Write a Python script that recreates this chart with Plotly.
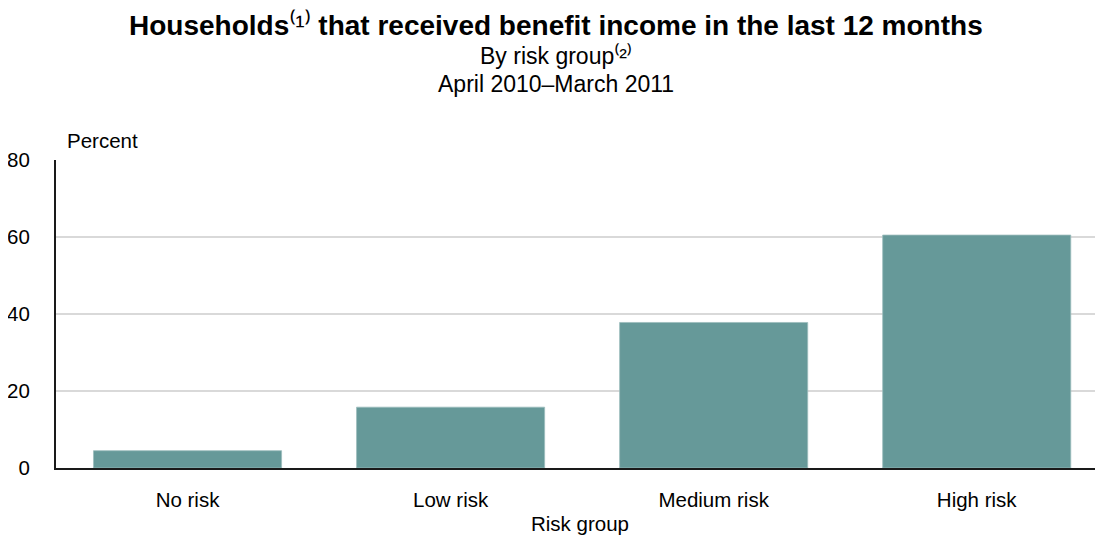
import plotly.graph_objects as go

categories = ["No risk", "Low risk", "Medium risk", "High risk"]
values = [4.5, 15.8, 37.8, 60.5]
y_ticks = [0, 20, 40, 60, 80]

FONT = "Liberation Sans, Arial, sans-serif"
BAR = "#669999"

# page body has an 8px default margin; compensate
OFF = 8
W, H = 1103 - OFF, 538 - OFF
left, right, top, bottom = 56, 1103, 160, 468   # plot area in screenshot px


def px(x):
    return (x - left) / (right - left)


def py(y):
    return (bottom - y) / (bottom - top)


fig = go.Figure()
fig.add_trace(go.Bar(
    x=categories, y=values, width=0.715,
    marker=dict(color=BAR, line=dict(color="#9cbcbc", width=0.8)),
    hoverinfo="x+y",
))

fig.update_layout(
    width=W, height=H,
    margin=dict(l=left - OFF, r=0, t=top - OFF, b=H - (bottom - OFF)),
    paper_bgcolor="white", plot_bgcolor="white",
    font=dict(family=FONT, size=20.5, color="#000000"),
    showlegend=False,
    xaxis=dict(
        type="category", range=[-0.5, 3.48],
        showline=True, linecolor="#1a1a1a", linewidth=2,
        showgrid=False, ticks="", tickfont=dict(size=20.5),
        ticklabelstandoff=12,
    ),
    yaxis=dict(
        range=[0, 80], tickvals=y_ticks, ticktext=[str(v) for v in y_ticks],
        showline=True, linecolor="#1a1a1a", linewidth=2,
        showgrid=True, gridcolor="#d9d9d9", gridwidth=2,
        ticks="", tickfont=dict(size=20.5), ticklabelstandoff=20,
        zeroline=False,
    ),
    annotations=[
        dict(text="<b>Households</b>⁽¹⁾<b> that received benefit income in the last 12 months</b>",
             xref="paper", yref="paper", x=px(556), y=py(25), xanchor="center", yanchor="middle",
             showarrow=False, font=dict(size=28, family=FONT)),
        dict(text="By risk group⁽²⁾",
             xref="paper", yref="paper", x=px(556), y=py(56), xanchor="center", yanchor="middle",
             showarrow=False, font=dict(size=23, family=FONT)),
        dict(text="April 2010–March 2011",
             xref="paper", yref="paper", x=px(556), y=py(84), xanchor="center", yanchor="middle",
             showarrow=False, font=dict(size=23, family=FONT)),
        dict(text="Percent",
             xref="paper", yref="paper", x=px(65), y=py(140), xanchor="left", yanchor="middle",
             showarrow=False, font=dict(size=20.5, family=FONT)),
        dict(text="Risk group",
             xref="paper", yref="paper", x=px(580), y=py(523), xanchor="center", yanchor="middle",
             showarrow=False, font=dict(size=20.5, family=FONT)),
    ],
)

fig.write_html("out.html")
